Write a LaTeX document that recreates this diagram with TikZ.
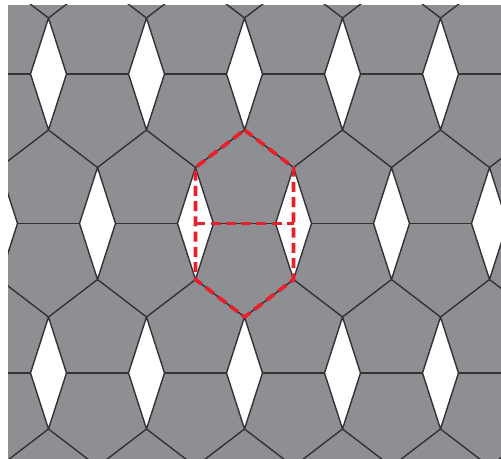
\documentclass[tikz,border=0pt]{standalone}
\usepackage{tikz}
\usetikzlibrary{calc}
\definecolor{tile}{HTML}{8E8F93}
\definecolor{seam}{HTML}{333335}
\definecolor{cellred}{HTML}{E8202A}
\begin{document}
\begin{tikzpicture}[
  x=0.03cm,y=-0.03cm,
  seamline/.style={draw=seam,line width=1.2pt,line join=round},
  gap/.style={fill=white,draw=seam,line width=1.2pt,line join=round},
  cellline/.style={draw=cellred,line width=3.2pt,dash pattern=on 8.5pt off 4.5pt,line join=round}
]
\useasboundingbox (0,0) rectangle (501,459);
\begin{scope}
\clip (8,5) rectangle (501,459);
\fill[tile] (8,5) rectangle (501,459);
% rows of rhombic gaps, seams between them
\foreach \y/\xo in {-75.5/-0.5, 74/48.5, 223.5/-0.5, 373/48.5, 522.5/-0.5}{
  \foreach \i in {-1,...,5}{
    \pgfmathsetmacro\xc{\xo+98*\i}
    \path[gap] (\xc,\y-56) -- (\xc+18,\y) -- (\xc,\y+56) -- (\xc-18,\y) -- cycle;
    \draw[seamline] (\xc+18,\y) -- (\xc+80,\y);
    \draw[seamline] (\xc-49,\y+93.5) -- (\xc,\y+56) -- (\xc+49,\y+93.5);
  }
}
\end{scope}
% highlighted cell
\coordinate (top) at (244.5,130);
\coordinate (ul) at (195.5,167.5);
\coordinate (ur) at (293.5,167.5);
\coordinate (ml) at (195.5,223.5);
\coordinate (mr) at (293.5,223.5);
\coordinate (ll) at (195.5,279.5);
\coordinate (lr) at (293.5,279.5);
\coordinate (bot) at (244.5,317);
\draw[cellline] (top) -- (ur) -- (lr) -- (bot) -- (ll) -- (ul) -- cycle;
\draw[cellline] (ml) -- (mr);
\end{tikzpicture}
\end{document}
